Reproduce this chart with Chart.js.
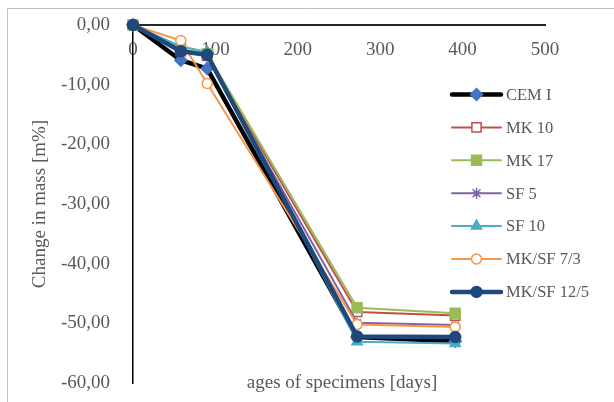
<!DOCTYPE html>
<html>
<head>
<meta charset="utf-8">
<script src="https://cdn.jsdelivr.net/npm/chart.js@4.4.1/dist/chart.umd.min.js"></script>
<style>
  html, body { margin: 0; padding: 0; background: #fff; }
  #wrap { width: 614px; height: 402px; position: relative; }
</style>
</head>
<body>
<div id="wrap"><canvas id="chart"></canvas></div>
<script>
// Mass change of specimens over time
var ages = [0, 58, 90, 272, 391];

var seriesNames = ['CEM I', 'MK 10', 'MK 17', 'SF 5', 'SF 10', 'MK/SF 7/3', 'MK/SF 12/5'];
var cem1     = [0, -5.9, -7.3, -52.3, -53.0];
var mk10     = [0, -4.4, -5.2, -48.1, -48.7];
var mk17     = [0, -4.0, -4.8, -47.4, -48.3];
var sf5      = [0, -4.2, -5.3, -49.9, -50.3];
var sf10     = [0, -3.6, -4.5, -53.1, -53.4];
var mksf73   = [0, -2.6, -9.8, -50.2, -50.6];
var mksf125  = [0, -4.4, -5.0, -52.2, -52.3];

var xTicks = [0, 100, 200, 300, 400, 500];
var yTicks = [0, -10, -20, -30, -40, -50, -60];

var serif = "'Liberation Serif', 'Times New Roman', serif";
var textColor = '#595959';

function pts(vals) {
  return vals.map(function (v, i) { return { x: ages[i], y: v }; });
}

var styles = [
  { line: '#000000', width: 4.5, marker: 'rectRot',  fill: '#4472c4', border: '#4472c4', r: 6 },
  { line: '#c0504d', width: 2,   marker: 'rect',     fill: '#ffffff', border: '#c0504d', r: 6.5 },
  { line: '#9bbb59', width: 2,   marker: 'rect',     fill: '#9bbb59', border: '#9bbb59', r: 7 },
  { line: '#8064a2', width: 2,   marker: 'star',     fill: '#8064a2', border: '#8064a2', r: 5 },
  { line: '#4bacc6', width: 2,   marker: 'triangle', fill: '#4bacc6', border: '#4bacc6', r: 6 },
  { line: '#f79646', width: 2,   marker: 'circle',   fill: '#ffffff', border: '#f79646', r: 5 },
  { line: '#1f497d', width: 4.5, marker: 'circle',   fill: '#1f497d', border: '#1f497d', r: 5.5 }
];
var values = [cem1, mk10, mk17, sf5, sf10, mksf73, mksf125];

var datasets = values.map(function (vals, i) {
  var s = styles[i];
  return {
    label: seriesNames[i],
    data: pts(vals),
    showLine: true,
    borderColor: s.line,
    borderWidth: s.width,
    pointStyle: s.marker,
    pointRadius: s.r,
    pointBackgroundColor: s.fill,
    pointBorderColor: s.border,
    pointBorderWidth: 1.5,
    tension: 0,
    clip: false,
    order: values.length - i   // later series drawn on top, as in the original
  };
});

// frame, x title and legend drawn by hand
var decor = {
  id: 'decor',
  beforeDraw: function (chart) {
    var ctx = chart.ctx;
    ctx.save();
    ctx.strokeStyle = '#bfbfbf';
    ctx.lineWidth = 1;
    ctx.beginPath();
    ctx.moveTo(7.5, 402);
    ctx.lineTo(7.5, 8.5);
    ctx.lineTo(614, 8.5);
    ctx.stroke();
    ctx.restore();
  },
  afterDraw: function (chart) {
    var ctx = chart.ctx;
    var area = chart.chartArea;
    ctx.save();
    ctx.fillStyle = textColor;
    ctx.font = '19px ' + serif;
    ctx.textAlign = 'center';
    ctx.textBaseline = 'middle';
    ctx.fillText('ages of specimens [days]', (area.left + area.right) / 2 + 3, area.bottom);

    var x0 = 452, x1 = 501, top = 94.5, step = 32.9;
    ctx.font = '16.5px ' + serif;
    ctx.textAlign = 'left';
    datasets.forEach(function (ds, i) {
      var y = top + i * step;
      var s = styles[i];
      ctx.strokeStyle = s.line;
      ctx.lineWidth = s.width;
      ctx.lineCap = 'round';
      ctx.beginPath();
      ctx.moveTo(x0, y);
      ctx.lineTo(x1, y);
      ctx.stroke();
      if (Chart.helpers && Chart.helpers.drawPoint) {
        ctx.fillStyle = s.fill;
        ctx.strokeStyle = s.border;
        ctx.lineWidth = 1.5;
        Chart.helpers.drawPoint(ctx, { pointStyle: s.marker, radius: s.r, rotation: 0, borderWidth: 1.5 }, (x0 + x1) / 2, y);
      }
      ctx.fillStyle = textColor;
      ctx.fillText(ds.label, 506, y + 1);
    });
    ctx.restore();
  }
};

new Chart(document.getElementById('chart'), {
  type: 'scatter',
  data: { datasets: datasets },
  options: {
    responsive: true,
    maintainAspectRatio: false,
    animation: false,
    layout: { padding: { left: 29, top: 25, right: 69, bottom: 19 } },
    plugins: {
      legend: { display: false },
      tooltip: { enabled: false }
    },
    scales: {
      x: {
        type: 'linear',
        position: { y: 0 },
        min: 0, max: 500,
        afterBuildTicks: function (scale) {
          scale.ticks = xTicks.map(function (v) { return { value: v }; });
        },
        grid: { display: false, drawTicks: false },
        border: { display: true, color: '#262626', width: 2 },
        ticks: {
          color: textColor,
          font: { family: serif, size: 19 },
          padding: 14,
          maxRotation: 0,
          callback: function (v) { return String(v); }
        }
      },
      y: {
        type: 'linear',
        min: -60, max: 0,
        afterBuildTicks: function (scale) {
          scale.ticks = yTicks.map(function (v) { return { value: v }; });
        },
        afterFit: function (scale) {
          scale.width = 104;
          // tick padding would otherwise push the plot area in from top and bottom
          scale.paddingTop = 0;
          scale.paddingBottom = 0;
        },
        grid: { display: false, drawTicks: false },
        border: { display: true, color: '#000000', width: 1.5 },
        title: {
          display: true,
          text: 'Change in mass [m%]',
          color: textColor,
          font: { family: serif, size: 19 },
          padding: { top: 0, bottom: 0 }
        },
        ticks: {
          color: textColor,
          font: { family: serif, size: 19 },
          padding: 23,
          callback: function (v) { return v.toFixed(2).replace('.', ','); }
        }
      }
    }
  },
  plugins: [decor]
});
</script>
</body>
</html>
